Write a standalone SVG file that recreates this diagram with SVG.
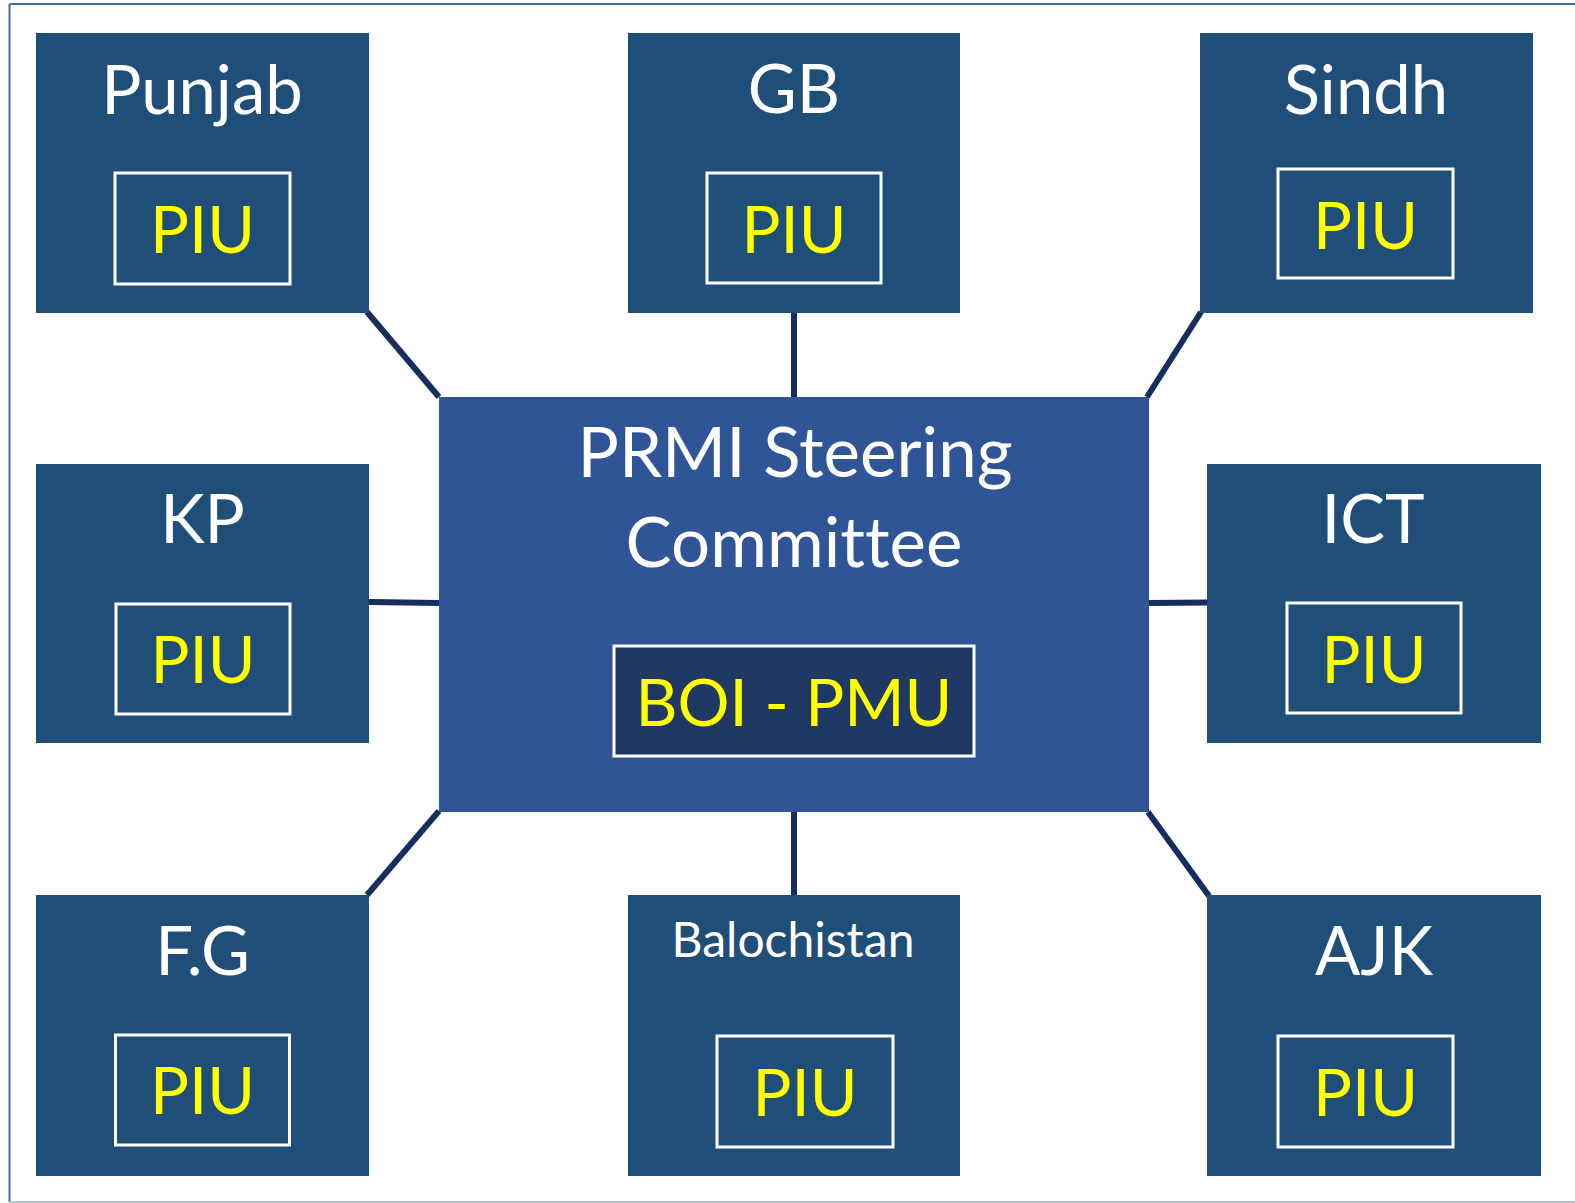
<svg xmlns="http://www.w3.org/2000/svg" width="1575" height="1203" viewBox="0 0 1575 1203">
<style>
.node{fill:#1f4e79}
.center{fill:#2f5597}
.piu{fill:none;stroke:#ffffff;stroke-width:3}
.boi{fill:#203864;stroke:#ffffff;stroke-width:3}
text{font-family:Lato,"Open Sans","Liberation Sans",sans-serif;text-anchor:middle;font-variant-ligatures:none}
.lbl{fill:#ffffff;font-size:67px}
.piut{fill:#ffff00;font-size:65px}
.big{font-size:69px}
.boit{font-size:65px}
.small{font-size:48px}
.conn line{stroke:#172c5f;stroke-width:6}
</style>
<g id="frame">
<line x1="9.5" y1="4" x2="1575" y2="4" stroke="#41719c" stroke-width="2"/>
<line x1="9.5" y1="4" x2="9.5" y2="1202" stroke="#41719c" stroke-width="2"/>
<line x1="9.5" y1="1202" x2="1575" y2="1202" stroke="#b4c4d2" stroke-width="2"/>
</g>
<g id="connectors" class="conn">
<line x1="367" y1="312" x2="439" y2="397"/>
<line x1="794" y1="313" x2="794" y2="397"/>
<line x1="1201" y1="312" x2="1147" y2="397"/>
<line x1="369" y1="602" x2="439" y2="603"/>
<line x1="1149" y1="603" x2="1207" y2="602.5"/>
<line x1="439" y1="811" x2="367" y2="895"/>
<line x1="794" y1="812" x2="794" y2="895"/>
<line x1="1148" y1="812" x2="1209" y2="896"/>
</g>
<g id="center">
<rect class="center" x="439" y="397" width="710" height="415"/>
<text class="lbl big" x="795" y="477">PRMI Steering</text>
<text class="lbl big" x="794" y="567">Committee</text>
<rect class="boi" x="614" y="646" width="360" height="110"/>
<text class="piut boit" x="794" y="726">BOI - PMU</text>
</g>
<g id="punjab">
<rect class="node" x="36" y="33" width="333" height="280"/>
<text class="lbl" x="202" y="114">Punjab</text>
<rect class="piu" x="115" y="173" width="175" height="111"/>
<text class="piut" x="202.5" y="253">PIU</text>
</g>
<g id="gb">
<rect class="node" x="628" y="33" width="332" height="280"/>
<text class="lbl" x="794" y="113">GB</text>
<rect class="piu" x="707" y="173" width="174" height="110"/>
<text class="piut" x="794" y="253">PIU</text>
</g>
<g id="sindh">
<rect class="node" x="1200" y="33" width="333" height="280"/>
<text class="lbl" x="1366" y="114">Sindh</text>
<rect class="piu" x="1278" y="169" width="175" height="109"/>
<text class="piut" x="1365.5" y="249">PIU</text>
</g>
<g id="kp">
<rect class="node" x="36" y="464" width="333" height="279"/>
<text class="lbl" x="202.5" y="543">KP</text>
<rect class="piu" x="116" y="604" width="174" height="110"/>
<text class="piut" x="203" y="683">PIU</text>
</g>
<g id="ict">
<rect class="node" x="1207" y="464" width="334" height="279"/>
<text class="lbl" x="1373" y="543">ICT</text>
<rect class="piu" x="1287" y="603" width="174" height="110"/>
<text class="piut" x="1374" y="683">PIU</text>
</g>
<g id="fg">
<rect class="node" x="36" y="895" width="333" height="281"/>
<text class="lbl" x="202.5" y="975">F.G</text>
<rect class="piu" x="115.5" y="1035" width="174" height="110"/>
<text class="piut" x="202.5" y="1114">PIU</text>
</g>
<g id="balochistan">
<rect class="node" x="628" y="895" width="332" height="281"/>
<text class="lbl small" x="793" y="957">Balochistan</text>
<rect class="piu" x="717" y="1036" width="176" height="111"/>
<text class="piut" x="805" y="1116">PIU</text>
</g>
<g id="ajk">
<rect class="node" x="1207" y="895" width="334" height="281"/>
<text class="lbl" x="1374" y="975">AJK</text>
<rect class="piu" x="1278" y="1036" width="175" height="111"/>
<text class="piut" x="1365.5" y="1116">PIU</text>
</g>
</svg>
